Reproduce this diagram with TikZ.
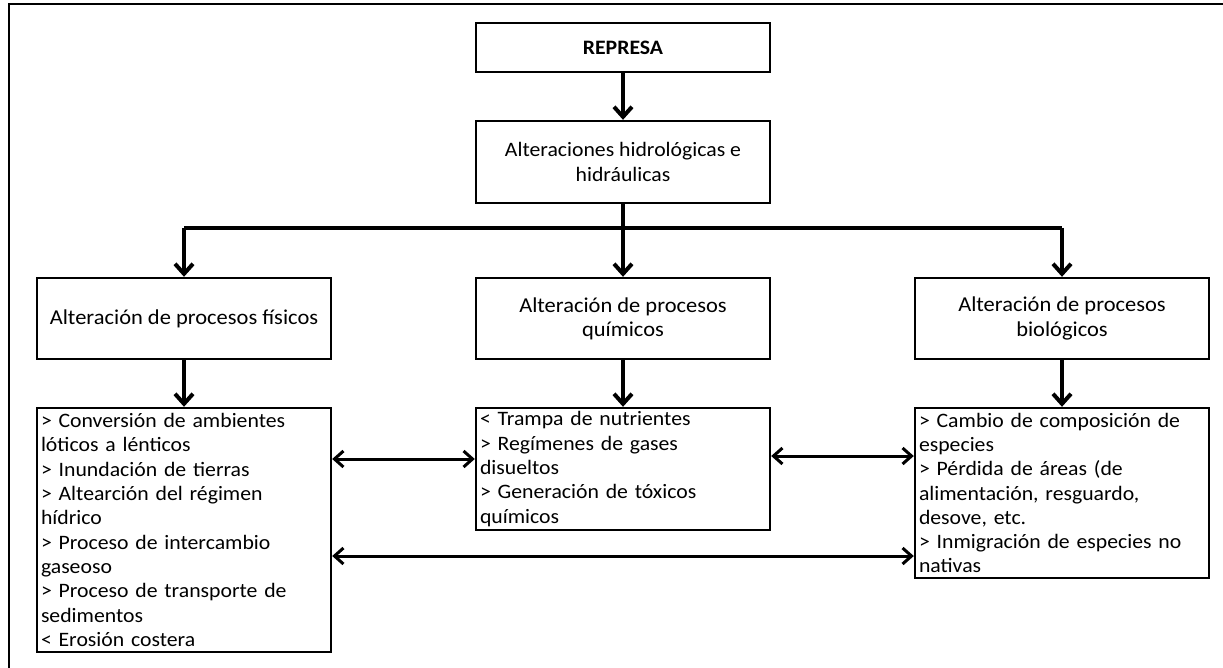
\documentclass[tikz,border=0pt]{standalone}
\usepackage{fontspec}
\setmainfont{Carlito}[FakeStretch=1.06]
\usetikzlibrary{arrows.meta}
\begin{document}
\begin{tikzpicture}[x=1pt,y=-1pt,
  box/.style={draw=black,line width=2.4pt,inner sep=0pt,minimum width=294pt,
    font=\fontsize{20.5}{24.3}\selectfont,align=center},
  midbox/.style={box,font=\fontsize{21.2}{24.3}\selectfont},
  listbox/.style={draw=black,line width=2.4pt,inner xsep=4pt,inner ysep=0pt,
    minimum width=294pt,text width=286pt,align=left,
    font=\fontsize{20.5}{24.3}\selectfont},
  flow/.style={line width=4pt,-{Straight Barb[length=10pt,width=18pt,line width=4pt]}},
  bus/.style={line width=4.5pt},
  link/.style={line width=3pt,{Straight Barb[length=9pt,width=16pt,line width=3pt]}-{Straight Barb[length=9pt,width=16pt,line width=3pt]}}
]
\useasboundingbox (0,0) rectangle (1223,668);
% outer frame (top and left edges visible)
\coordinate (fa) at (9,4);
\coordinate (fb) at (1223,4);
\coordinate (fc) at (9,668);
\draw[line width=2pt] (fb) -- (fa) -- (fc);

\node[box,minimum height=49pt] (rep) at (623,47.5) {\textbf{REPRESA}};
\node[box,minimum height=82pt] (alt) at (623,162) {Alteraciones hidrológicas e\\hidráulicas};

\node[midbox,minimum height=81pt] (fis) at (184,318.5) {Alteración de procesos físicos};
\node[midbox,minimum height=81pt] (qui) at (623,318.5) {Alteración de procesos\\químicos};
\node[midbox,minimum height=81pt] (bio) at (1062,318.5) {Alteración de procesos\\biológicos};

\node[listbox,minimum height=244pt] (lf) at (184,530) {%
> Conversión de ambientes\\
lóticos a lénticos\\
> Inundación de tierras\\
> Altearción del régimen\\
hídrico\\
> Proceso de intercambio\\
gaseoso\\
> Proceso de transporte de\\
sedimentos\\
< Erosión costera};

\node[listbox,minimum height=122pt] (lq) at (623,469) {%
< Trampa de nutrientes\\
> Regímenes de gases\\
disueltos\\
> Generación de tóxicos\\
químicos};

\node[listbox,minimum height=170pt] (lb) at (1062,493) {%
> Cambio de composición de\\
especies\\
> Pérdida de áreas (de\\
alimentación, resguardo,\\
desove, etc.\\
> Inmigración de especies no\\
nativas};

% connectors
\draw[flow] (rep) -- (alt);
\coordinate (j) at (623,228);
\draw[bus] (alt.south) -- (j);
\draw[bus] (j) -- (j -| fis);
\draw[bus] (j) -- (j -| bio);
\draw[flow] (j -| fis) -- (fis);
\draw[flow] (j) -- (qui);
\draw[flow] (j -| bio) -- (bio);

\draw[flow] (fis) -- (lf);
\draw[flow] (qui) -- (lq);
\draw[flow] (bio) -- (lb);

\coordinate (ya) at (0,459);
\coordinate (yb) at (0,456);
\coordinate (yc) at (0,556);
\draw[link] (lf.east |- ya) -- (lq.west |- ya);
\draw[link] (lq.east |- yb) -- (lb.west |- yb);
\draw[link] (lf.east |- yc) -- (lb.west |- yc);
\end{tikzpicture}
\end{document}
